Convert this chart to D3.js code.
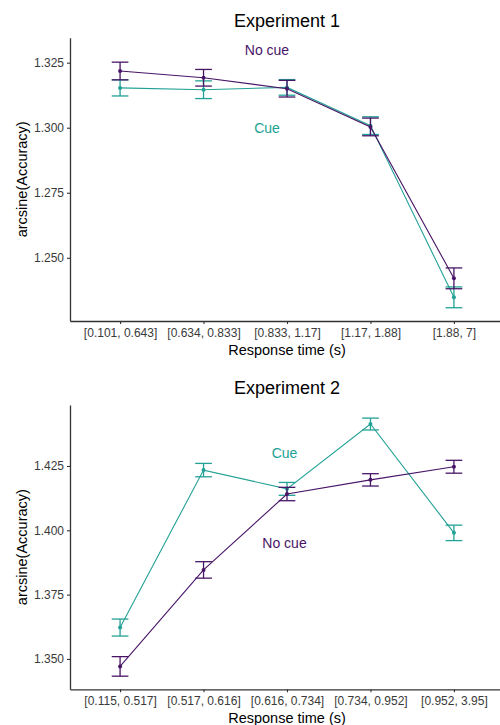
<!DOCTYPE html>
<html>
<head>
<meta charset="utf-8">
<script src="https://cdn.jsdelivr.net/npm/d3@7"></script>
<style>
  body { margin: 0; background: #fff; }
  svg { display: block; font-family: "Liberation Sans", Arial, sans-serif; }
</style>
</head>
<body>
<div id="chart-area"></div>
<script>
// data
const exp1Bins = ["[0.101, 0.643]", "[0.634, 0.833]", "[0.833, 1.17]", "[1.17, 1.88]", "[1.88, 7]"];
const exp1NoCue = [1.3218, 1.3192, 1.3150, 1.3003, 1.2421];
const exp1NoCueErr = [0.0034, 0.0032, 0.0032, 0.0034, 0.0040];
const exp1Cue = [1.3153, 1.3146, 1.3155, 1.3008, 1.2348];
const exp1CueErr = [0.0031, 0.0034, 0.0030, 0.0034, 0.0040];
const exp1Ticks = [1.250, 1.275, 1.300, 1.325];
const exp1Domain = [1.2257, 1.3346];

const exp2Bins = ["[0.115, 0.517]", "[0.517, 0.616]", "[0.616, 0.734]", "[0.734, 0.952]", "[0.952, 3.95]"];
const exp2NoCue = [1.3471, 1.3846, 1.4141, 1.4196, 1.4247];
const exp2NoCueErr = [0.0038, 0.0032, 0.0026, 0.0024, 0.0025];
const exp2Cue = [1.3622, 1.4234, 1.4161, 1.4413, 1.3990];
const exp2CueErr = [0.0033, 0.0026, 0.0025, 0.0023, 0.0030];
const exp2Ticks = [1.350, 1.375, 1.400, 1.425];
const exp2Domain = [1.3382, 1.4487];

// label positions: [category index (fractional), value]
const exp1Labels = [["No cue", 1.76, 1.3299], ["Cue", 1.76, 1.2999]];
const exp2Labels = [["Cue", 1.97, 1.4300], ["No cue", 1.97, 1.3950]];

const noCueColor = "#481567";
const cueColor = "#22a195";

const W = 500, H = 725;
const svg = d3.select("#chart-area").append("svg")
    .attr("width", W).attr("height", H);

function drawPanel(o) {
  const g = svg.append("g");
  const x = d3.scalePoint().domain(o.bins).range([70, 504]).padding(0.6);
  const y = d3.scaleLinear().domain(o.domain).range([o.bottom, o.top]);
  const step = x.step();
  const xf = v => x(o.bins[0]) + v * step;

  // axes
  const ya = g.append("g").attr("transform", "translate(70,0)")
      .call(d3.axisLeft(y).tickValues(o.ticks).tickFormat(d3.format(".3f")).tickSize(3).tickSizeOuter(0));
  const xa = g.append("g").attr("transform", "translate(0," + o.bottom + ")")
      .call(d3.axisBottom(x).tickSize(3).tickSizeOuter(0));
  [ya, xa].forEach(a => {
    a.select(".domain").attr("stroke", "#333").attr("stroke-width", 1.3);
    a.selectAll(".tick line").attr("stroke", "#333").attr("stroke-width", 1.1);
    a.selectAll(".tick text").attr("fill", "#3a3a3a").style("font-size", "12px");
  });
  ya.selectAll(".tick text").attr("x", -6);
  xa.selectAll(".tick text").attr("y", 7);

  const series = [
    {vals: o.noCue, err: o.noCueErr, color: noCueColor},
    {vals: o.cue, err: o.cueErr, color: cueColor}
  ];
  // draw cue first so no cue sits on top like the reference
  series.slice().reverse().forEach(s => {
    const pts = s.vals.map((v, i) => ({c: o.bins[i], v: v, e: s.err[i]}));
    g.append("path").datum(pts)
      .attr("fill", "none").attr("stroke", s.color).attr("stroke-width", 1.1)
      .attr("d", d3.line().x(d => x(d.c)).y(d => y(d.v)));
    const eb = g.append("g").selectAll("g").data(pts).enter().append("g")
      .attr("stroke", s.color).attr("stroke-width", 1.3);
    eb.append("line").attr("x1", d => x(d.c)).attr("x2", d => x(d.c))
      .attr("y1", d => y(d.v + d.e)).attr("y2", d => y(d.v - d.e));
    eb.append("line").attr("x1", d => x(d.c) - step * 0.1).attr("x2", d => x(d.c) + step * 0.1)
      .attr("y1", d => y(d.v + d.e)).attr("y2", d => y(d.v + d.e));
    eb.append("line").attr("x1", d => x(d.c) - step * 0.1).attr("x2", d => x(d.c) + step * 0.1)
      .attr("y1", d => y(d.v - d.e)).attr("y2", d => y(d.v - d.e));
    g.append("g").selectAll("circle").data(pts).enter().append("circle")
      .attr("cx", d => x(d.c)).attr("cy", d => y(d.v)).attr("r", 2)
      .attr("fill", s.color);
  });

  // in-plot labels
  g.selectAll("text.lab").data(o.labels).enter().append("text")
    .attr("class", "lab")
    .attr("x", d => xf(d[1])).attr("y", d => y(d[2]))
    .attr("text-anchor", "middle").attr("dy", "0.35em")
    .attr("fill", d => d[0] === "Cue" ? cueColor : noCueColor)
    .style("font-size", "14px")
    .text(d => d[0]);

  // titles
  g.append("text").attr("x", 287).attr("y", o.top - 11)
    .attr("text-anchor", "middle").style("font-size", "18px").attr("fill", "#000")
    .text(o.title);
  g.append("text").attr("x", 287).attr("y", o.bottom + 34)
    .attr("text-anchor", "middle").style("font-size", "14.5px").attr("fill", "#000")
    .text("Response time (s)");
  g.append("text")
    .attr("transform", "translate(27," + ((o.top + o.bottom) / 2) + ") rotate(-90)")
    .attr("text-anchor", "middle").style("font-size", "14.5px").attr("fill", "#000")
    .text("arcsine(Accuracy)");
}

drawPanel({title: "Experiment 1", bins: exp1Bins, noCue: exp1NoCue, noCueErr: exp1NoCueErr,
  cue: exp1Cue, cueErr: exp1CueErr, ticks: exp1Ticks, domain: exp1Domain,
  labels: exp1Labels, top: 37.7, bottom: 321});
drawPanel({title: "Experiment 2", bins: exp2Bins, noCue: exp2NoCue, noCueErr: exp2NoCueErr,
  cue: exp2Cue, cueErr: exp2CueErr, ticks: exp2Ticks, domain: exp2Domain,
  labels: exp2Labels, top: 405, bottom: 689.3});
</script>
</body>
</html>
